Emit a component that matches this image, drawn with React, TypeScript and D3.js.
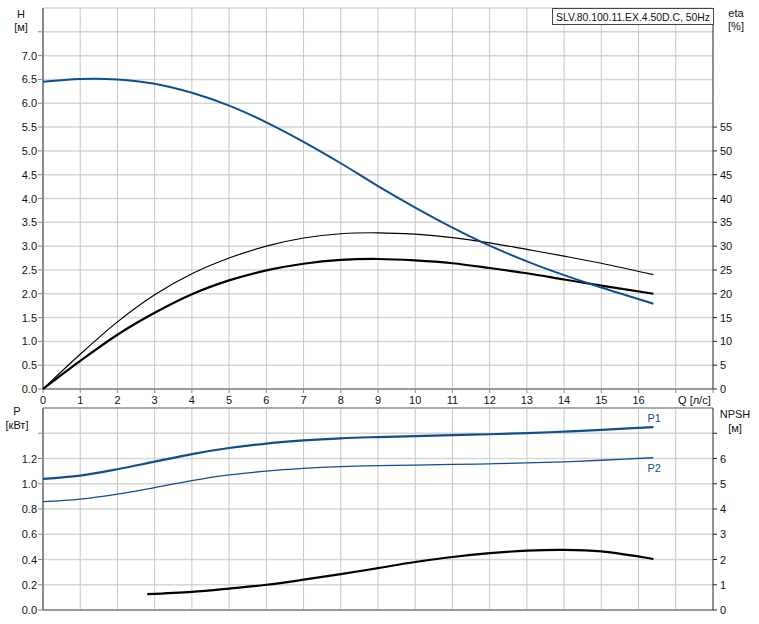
import React from "react";
import * as d3 from "d3";

// Flow rate Q [l/s]
const qHead = [0, 1, 2, 3, 4, 5, 6, 7, 8, 9, 10, 11, 12, 13, 14, 15, 16.4];
const head = [6.45, 6.51, 6.5, 6.41, 6.22, 5.95, 5.6, 5.19, 4.74, 4.26, 3.81, 3.39, 3.01, 2.68, 2.39, 2.13, 1.79];

const qEta = [0, 1, 2, 3, 4, 5, 6, 7, 8, 9, 10, 11, 12, 13, 14, 15, 16.4];
const etaThin = [0, 7.3, 14.1, 19.8, 24.2, 27.5, 30.0, 31.7, 32.6, 32.8, 32.5, 31.8, 30.7, 29.3, 27.9, 26.4, 24.0];
const etaThick = [0, 5.9, 11.4, 16.0, 19.9, 22.8, 24.9, 26.3, 27.1, 27.3, 27.0, 26.4, 25.4, 24.3, 23.0, 21.7, 20.0];

const qPower = [0, 1, 2, 3, 4, 5, 6, 7, 8, 9, 10, 11, 12, 13, 14, 15, 16.4];
const p1 = [1.039, 1.065, 1.115, 1.175, 1.235, 1.283, 1.318, 1.343, 1.36, 1.37, 1.378, 1.385, 1.392, 1.401, 1.413, 1.427, 1.449];
const p2 = [0.858, 0.878, 0.918, 0.97, 1.025, 1.07, 1.1, 1.121, 1.135, 1.143, 1.148, 1.153, 1.158, 1.165, 1.174, 1.186, 1.206];

const qNpsh = [2.8, 4, 5, 6, 7, 8, 9, 10, 11, 12, 13, 14, 15, 16.4];
const npsh = [0.63, 0.72, 0.85, 1.0, 1.2, 1.42, 1.66, 1.9, 2.1, 2.25, 2.35, 2.38, 2.32, 2.02];

const xTicks = [0, 1, 2, 3, 4, 5, 6, 7, 8, 9, 10, 11, 12, 13, 14, 15, 16];
const hTicks = [0, 0.5, 1, 1.5, 2, 2.5, 3, 3.5, 4, 4.5, 5, 5.5, 6, 6.5, 7];
const etaTicks = [0, 5, 10, 15, 20, 25, 30, 35, 40, 45, 50, 55];
const pTicks = [0, 0.2, 0.4, 0.6, 0.8, 1.0, 1.2];
const npshTicks = [0, 1, 2, 3, 4, 5, 6];

const title = "SLV.80.100.11.EX.4.50D.C, 50Hz";

const BLUE = "#0f4f8c";
const FONT = "'Liberation Sans', Arial, sans-serif";

export default function App() {
  const left = 43;
  const right = 713;
  const topY0 = 8;
  const topY1 = 389;
  const botY0 = 408;
  const botY1 = 610;

  const x = d3.scaleLinear().domain([0, 18]).range([left, right]);
  const yH = d3.scaleLinear().domain([0, 8]).range([topY1, topY0]);
  const yEta = d3.scaleLinear().domain([0, 80]).range([topY1, topY0]);
  const yP = d3.scaleLinear().domain([0, 1.6]).range([botY1, botY0]);
  const yN = d3.scaleLinear().domain([0, 8]).range([botY1, botY0]);

  const mk = (xs: number[], ys: number[], ys2: (v: number) => number) =>
    d3
      .line<number>()
      .x((_, i) => x(xs[i]))
      .y((d) => ys2(d))
      .curve(d3.curveCatmullRom.alpha(0.5))(ys) as string;

  const vGrid = d3.range(1, 18);
  const hGridTop = d3.range(0.5, 8.01, 0.5);
  const hGridBot = d3.range(0.2, 1.61, 0.2);

  const txt = { fontFamily: FONT, fontSize: 11, fill: "#111" } as const;

  return (
    <svg
      width={759}
      height={624}
      style={{ position: "absolute", left: 0, top: 0, background: "#fff" }}
    >
      {/* grids */}
      <g>
        {hGridTop.map((v) => (
          <line key={"ht" + v} x1={left} x2={right} y1={yH(v)} y2={yH(v)} stroke="#d6d6d6" strokeWidth={1.5} />
        ))}
        {hGridBot.map((v) => (
          <line key={"hb" + v} x1={left} x2={right} y1={yP(v)} y2={yP(v)} stroke="#d6d6d6" strokeWidth={1.5} />
        ))}
        {vGrid.map((v) => (
          <g key={"v" + v}>
            <line x1={x(v)} x2={x(v)} y1={topY0} y2={topY1} stroke="#c8c8c8" strokeWidth={1} />
            <line x1={x(v)} x2={x(v)} y1={botY0} y2={botY1} stroke="#c8c8c8" strokeWidth={1} />
          </g>
        ))}
      </g>

      {/* frames */}
      <line x1={left} x2={right} y1={topY1} y2={topY1} stroke="#999" strokeWidth={2} />
      <line x1={left} x2={left} y1={topY0} y2={topY1} stroke="#888" strokeWidth={2} />
      <line x1={right} x2={right} y1={topY0} y2={topY1} stroke="#222" strokeWidth={1} />
      <line x1={left} x2={right} y1={botY0} y2={botY0} stroke="#aaa" strokeWidth={2} />
      <line x1={left} x2={right} y1={botY1} y2={botY1} stroke="#999" strokeWidth={2} />
      <line x1={left} x2={left} y1={botY0} y2={botY1} stroke="#888" strokeWidth={2} />
      <line x1={right} x2={right} y1={botY0} y2={botY1} stroke="#222" strokeWidth={1} />

      {/* x ticks */}
      {d3.range(0, 19).map((v) => (
        <line key={"xt" + v} x1={x(v)} x2={x(v)} y1={topY1} y2={topY1 + 4} stroke="#888" />
      ))}
      {xTicks.map((v) => (
        <text key={"xl" + v} x={x(v)} y={topY1 + 15} textAnchor="middle" {...txt}>
          {v}
        </text>
      ))}
      <text x={x(17.5)} y={topY1 + 15} textAnchor="middle" {...txt}>
        Q [л/с]
      </text>

      {/* left H axis */}
      {d3.range(0, 8.01, 0.5).filter((v) => v <= 7.5).map((v) => (
        <line key={"hk" + v} x1={left - 5} x2={left} y1={yH(v)} y2={yH(v)} stroke="#888" />
      ))}
      {hTicks.map((v) => (
        <text key={"hl" + v} x={left - 6} y={yH(v) + 4} textAnchor="end" {...txt}>
          {v.toFixed(1)}
        </text>
      ))}
      <text x={21} y={18} textAnchor="middle" {...txt}>H</text>
      <text x={21} y={31} textAnchor="middle" {...txt}>[м]</text>

      {/* right eta axis */}
      {etaTicks.map((v) => (
        <g key={"el" + v}>
          <line x1={right} x2={right + 4} y1={yEta(v)} y2={yEta(v)} stroke="#222" />
          <text x={right + 7} y={yEta(v) + 4} {...txt}>{v}</text>
        </g>
      ))}
      <text x={736} y={17} textAnchor="middle" {...txt}>eta</text>
      <text x={736} y={30} textAnchor="middle" {...txt}>[%]</text>

      {/* title box */}
      <rect x={552.5} y={8.5} width={161} height={16} fill="#fff" stroke="#444" strokeWidth={1} />
      <text x={556} y={20.5} textLength={154} lengthAdjust="spacingAndGlyphs" {...txt}>{title}</text>

      {/* bottom left P axis */}
      {d3.range(0, 1.41, 0.2).map((v) => (
        <line key={"pk" + v} x1={left - 5} x2={left} y1={yP(v)} y2={yP(v)} stroke="#888" />
      ))}
      {pTicks.map((v) => (
        <text key={"pl" + v} x={left - 6} y={yP(v) + 4} textAnchor="end" {...txt}>
          {v.toFixed(1)}
        </text>
      ))}
      <text x={17} y={415} textAnchor="middle" {...txt}>P</text>
      <text x={17} y={429} textAnchor="middle" {...txt}>[кВт]</text>

      {/* bottom right NPSH axis */}
      {d3.range(0, 8).map((v) => (
        <line key={"nk" + v} x1={right} x2={right + 4} y1={yN(v)} y2={yN(v)} stroke="#222" />
      ))}
      {npshTicks.map((v) => (
        <text key={"nl" + v} x={right + 7} y={yN(v) + 4} {...txt}>{v}</text>
      ))}
      <text x={735} y={418} textAnchor="middle" {...txt}>NPSH</text>
      <text x={735} y={432} textAnchor="middle" {...txt}>[м]</text>

      {/* curves top */}
      <path d={mk(qEta, etaThin, yEta)} fill="none" stroke="#000" strokeWidth={1.2} />
      <path d={mk(qEta, etaThick, yEta)} fill="none" stroke="#000" strokeWidth={2.2} />
      <path d={mk(qHead, head, yH)} fill="none" stroke={BLUE} strokeWidth={2} />

      {/* curves bottom */}
      <path d={mk(qPower, p1, yP)} fill="none" stroke={BLUE} strokeWidth={2.2} />
      <path d={mk(qPower, p2, yP)} fill="none" stroke={BLUE} strokeWidth={1.3} />
      <path d={mk(qNpsh, npsh, yN)} fill="none" stroke="#000" strokeWidth={2.2} />
      <text x={x(16.4) - 6} y={yP(1.449) - 5} fill={BLUE} fontFamily={FONT} fontSize={11}>P1</text>
      <text x={x(16.4) - 6} y={yP(1.206) + 14} fill={BLUE} fontFamily={FONT} fontSize={11}>P2</text>
    </svg>
  );
}
